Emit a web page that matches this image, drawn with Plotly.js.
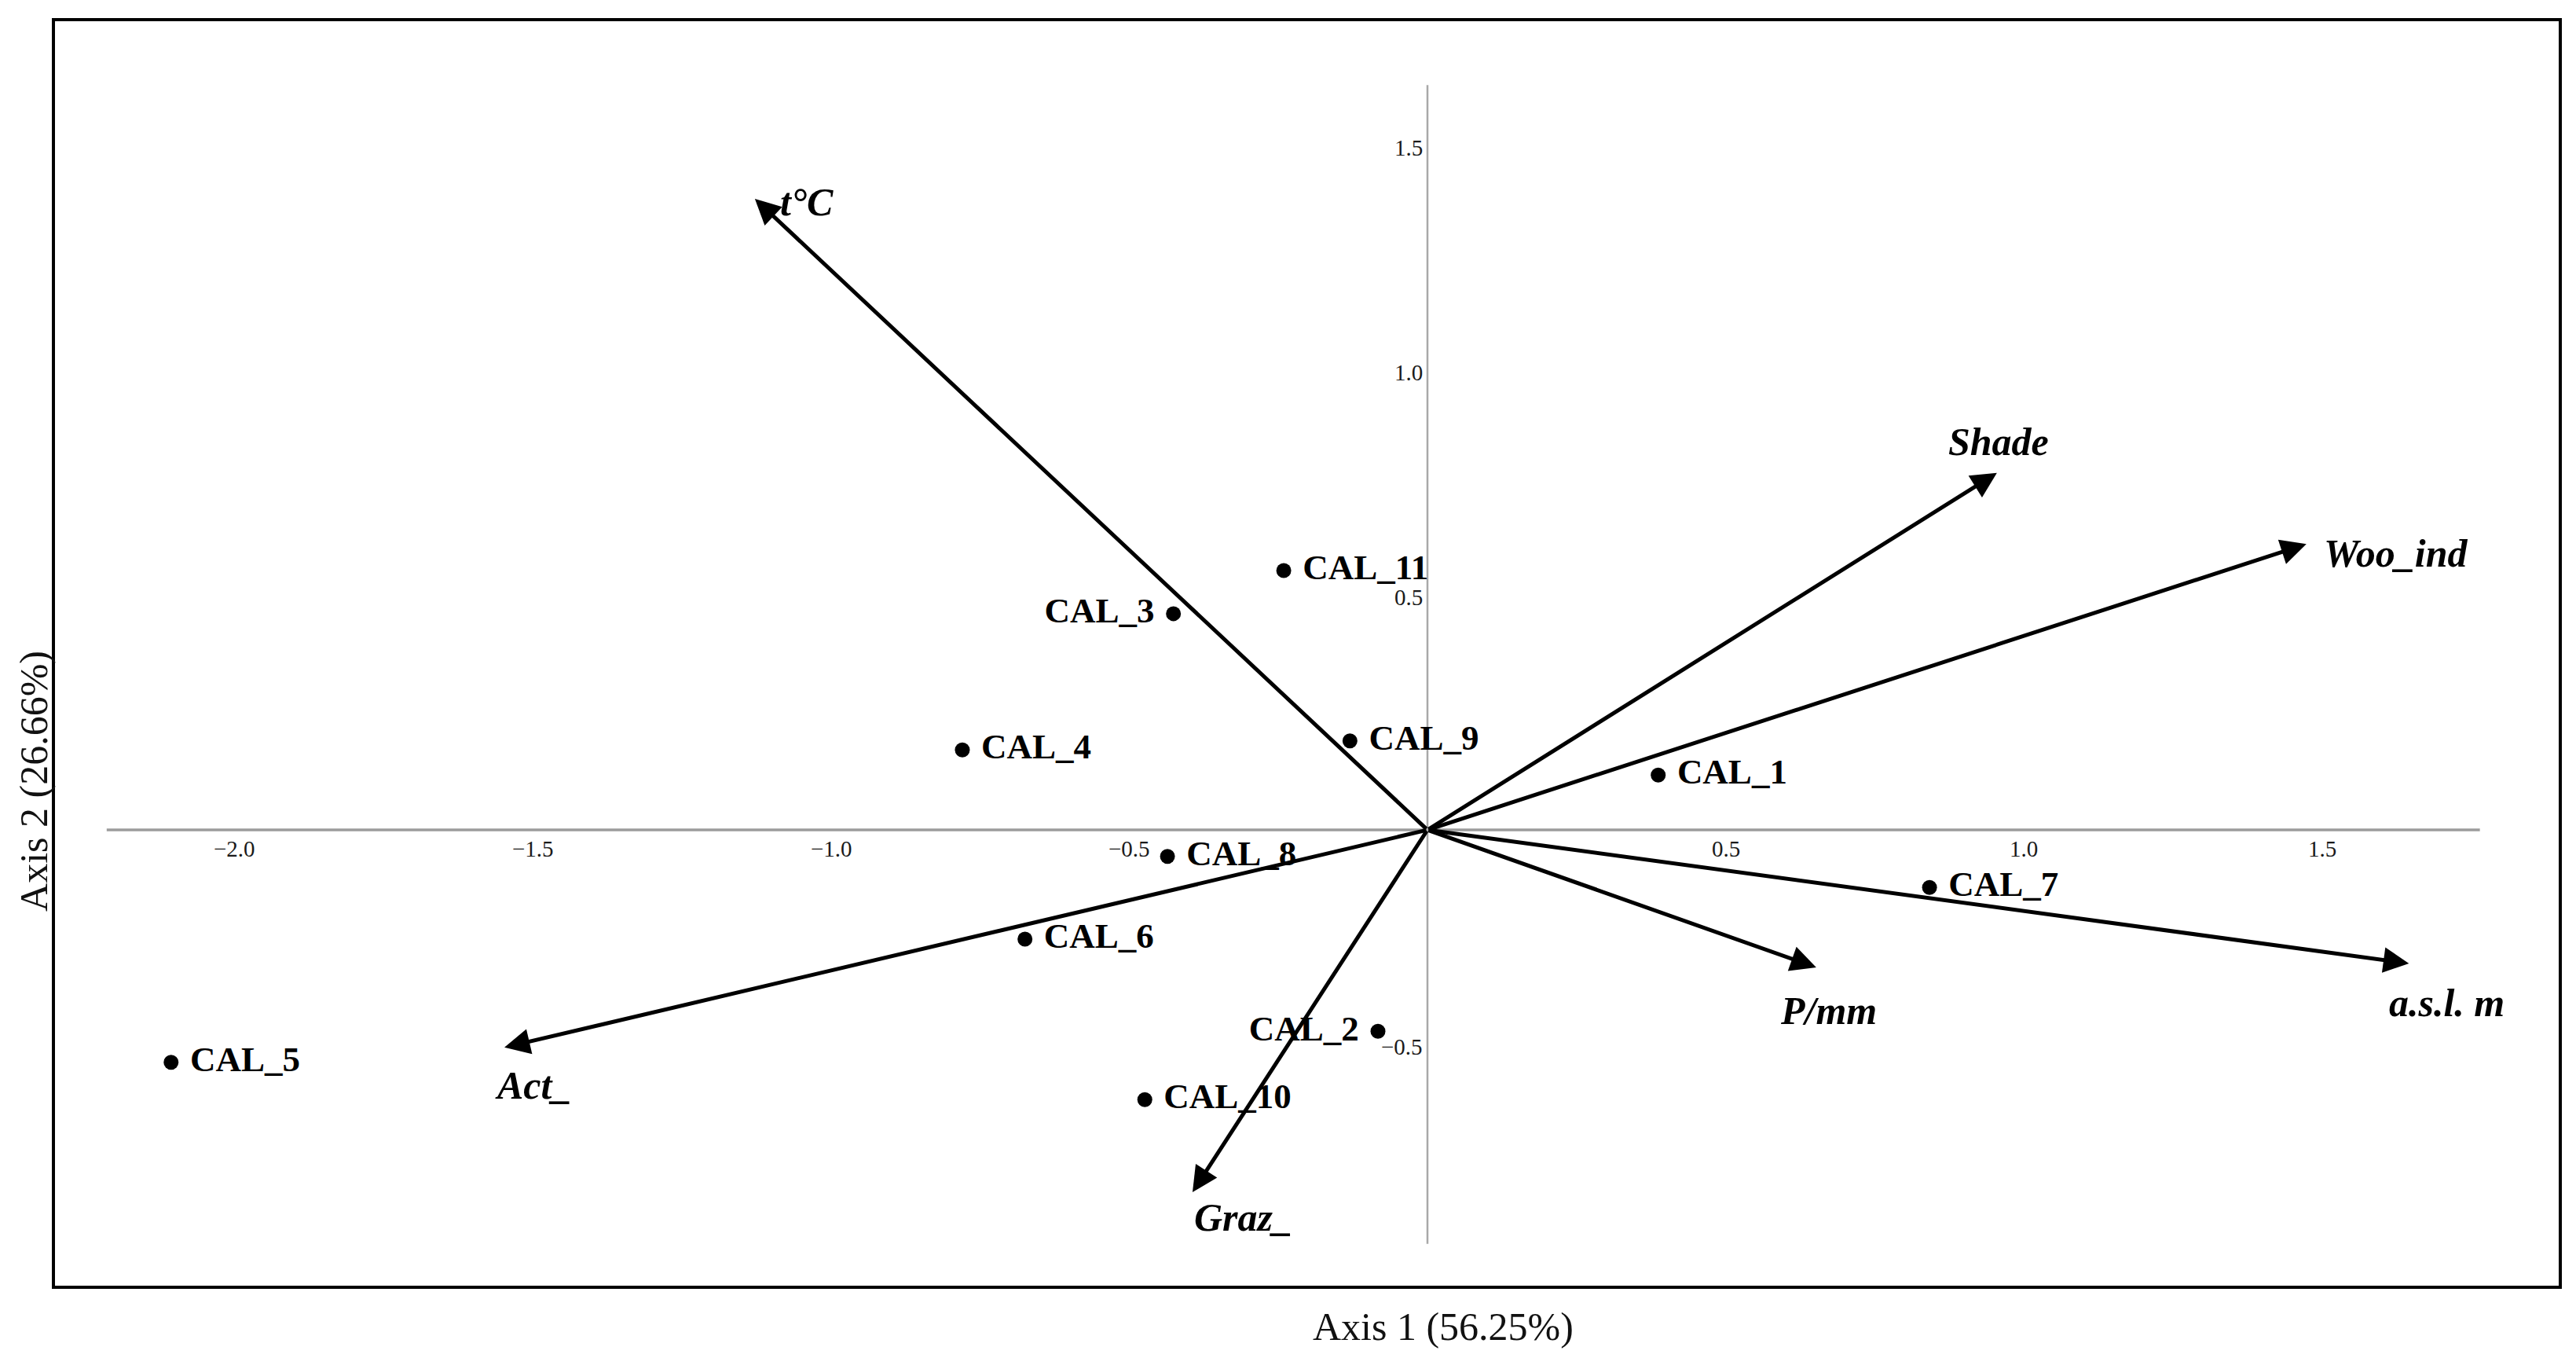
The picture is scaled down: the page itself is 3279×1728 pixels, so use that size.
<!DOCTYPE html>
<html>
<head>
<meta charset="utf-8">
<script src="https://cdn.plot.ly/plotly-3.0.1.min.js"></script>
<style>
  html, body { margin: 0; padding: 0; background: #fff; }
  #graph { width: 3279px; height: 1728px; }
</style>
</head>
<body>
<div id="graph"></div>
<script>
// sites (scores on axis 1 / axis 2)
const siteNames = ["CAL_1", "CAL_2", "CAL_3", "CAL_4", "CAL_5", "CAL_6",
                   "CAL_7", "CAL_8", "CAL_9", "CAL_10", "CAL_11"];
const siteAxis1 = [0.387, -0.083, -0.426, -0.780, -2.107, -0.675,
                   0.842, -0.436, -0.130, -0.474, -0.241];
const siteAxis2 = [0.122, -0.448, 0.481, 0.178, -0.517, -0.243,
                   -0.128, -0.059, 0.198, -0.600, 0.577];

// environmental vectors
const varNames = ["t°C", "Shade", "Woo_ind", "a.s.l. m", "P/mm", "Graz_", "Act_"];
const varAxis1 = [-1.128, 0.955, 1.474, 1.646, 0.652, -0.394, -1.548];
const varAxis2 = [1.404, 0.794, 0.636, -0.297, -0.306, -0.806, -0.484];

// tick labels along the zero lines
const xTicks = [-2.0, -1.5, -1.0, -0.5, 0.5, 1.0, 1.5];
const yTicks = [-0.5, 0.5, 1.0, 1.5];

const serif = "Liberation Serif, Times New Roman, serif";

// label placement (style only)
const leftLabels = ["CAL_2", "CAL_3"];
const varLabelStyle = {
  "t°C":      { xanchor: "left",   xshift: 30, yshift: -4 },
  "Shade":    { xanchor: "center", xshift: 2,  yshift: 40 },
  "Woo_ind":  { xanchor: "left",   xshift: 20, yshift: -12 },
  "a.s.l. m": { xanchor: "center", xshift: 48, yshift: -50 },
  "P/mm":     { xanchor: "center", xshift: 16, yshift: -55 },
  "Graz_":    { xanchor: "center", xshift: 65, yshift: -32 },
  "Act_":     { xanchor: "center", xshift: 36, yshift: -48 }
};

const fmt = (v) => (v < 0 ? "\u2212" : "") + Math.abs(v).toFixed(1);
const gap = "\u00A0";

const sites = {
  x: siteAxis1,
  y: siteAxis2,
  text: siteNames.map((n) => leftLabels.includes(n) ? n + gap : gap + n),
  type: "scatter",
  mode: "markers+text",
  marker: { color: "#000", size: 19 },
  textposition: siteNames.map((n) => leftLabels.includes(n) ? "middle left" : "middle right"),
  textfont: { family: serif, size: 45, color: "#000", weight: "bold" },
  cliponaxis: false,
  hoverinfo: "text"
};

// arrows from origin
const arrows = varNames.map((n, i) => ({
  x: varAxis1[i], y: varAxis2[i], xref: "x", yref: "y",
  ax: 0, ay: 0, axref: "x", ayref: "y",
  text: "", showarrow: true,
  arrowhead: 2, arrowsize: 1.3, arrowwidth: 5, arrowcolor: "#000", standoff: 0
}));

const varLabels = varNames.map((n, i) => ({
  x: varAxis1[i], y: varAxis2[i], xref: "x", yref: "y",
  text: n, showarrow: false,
  xanchor: varLabelStyle[n].xanchor, yanchor: "middle",
  xshift: varLabelStyle[n].xshift, yshift: varLabelStyle[n].yshift,
  font: { family: serif, size: 50, color: "#000", weight: "bold", style: "italic" }
}));

const xTickLabels = xTicks.map((v) => ({
  x: v, y: 0, xref: "x", yref: "y", text: fmt(v), showarrow: false,
  xanchor: "center", yanchor: "top", yshift: -6,
  font: { family: serif, size: 29, color: "#1a1a1a" }
}));

const yTickLabels = yTicks.map((v) => ({
  x: 0, y: v, xref: "x", yref: "y", text: fmt(v), showarrow: false,
  xanchor: "right", yanchor: "middle", xshift: -4, yshift: 10,
  font: { family: serif, size: 29, color: "#1a1a1a" }
}));

const axisTitles = [
  { text: "Axis 1 (56.25%)", xref: "paper", yref: "paper", x: 0.5544, y: -0.0323,
    xanchor: "center", yanchor: "middle", showarrow: false,
    font: { family: serif, size: 50, color: "#111" } },
  { text: "Axis 2 (26.66%)", xref: "paper", yref: "paper", x: -0.0085, y: 0.399,
    xanchor: "center", yanchor: "middle", textangle: -90, showarrow: false,
    font: { family: serif, size: 50, color: "#111" } }
];

const frameAxis = {
  showgrid: false, zeroline: false, showticklabels: false, ticks: "",
  showline: true, mirror: true, linecolor: "#000", linewidth: 4, fixedrange: true
};

const layout = {
  width: 3279, height: 1728,
  margin: { l: 70, r: 22, t: 27, b: 92 },
  paper_bgcolor: "#fff", plot_bgcolor: "#fff",
  showlegend: false,
  xaxis: Object.assign({ range: [-2.3017, 1.8972] }, frameAxis),
  yaxis: Object.assign({ range: [-1.014, 1.799] }, frameAxis),
  shapes: [
    { type: "line", xref: "x", yref: "y", x0: -2.215, x1: 1.765, y0: 0, y1: 0,
      line: { color: "#9c9c9c", width: 3.5 }, layer: "below" },
    { type: "line", xref: "x", yref: "y", x0: 0, x1: 0, y0: -0.921, y1: 1.657,
      line: { color: "#a8a8a8", width: 2.5 }, layer: "below" }
  ],
  annotations: [].concat(arrows, varLabels, xTickLabels, yTickLabels, axisTitles)
};

Plotly.newPlot("graph", [sites], layout, { displayModeBar: false, staticPlot: true });
</script>
</body>
</html>
